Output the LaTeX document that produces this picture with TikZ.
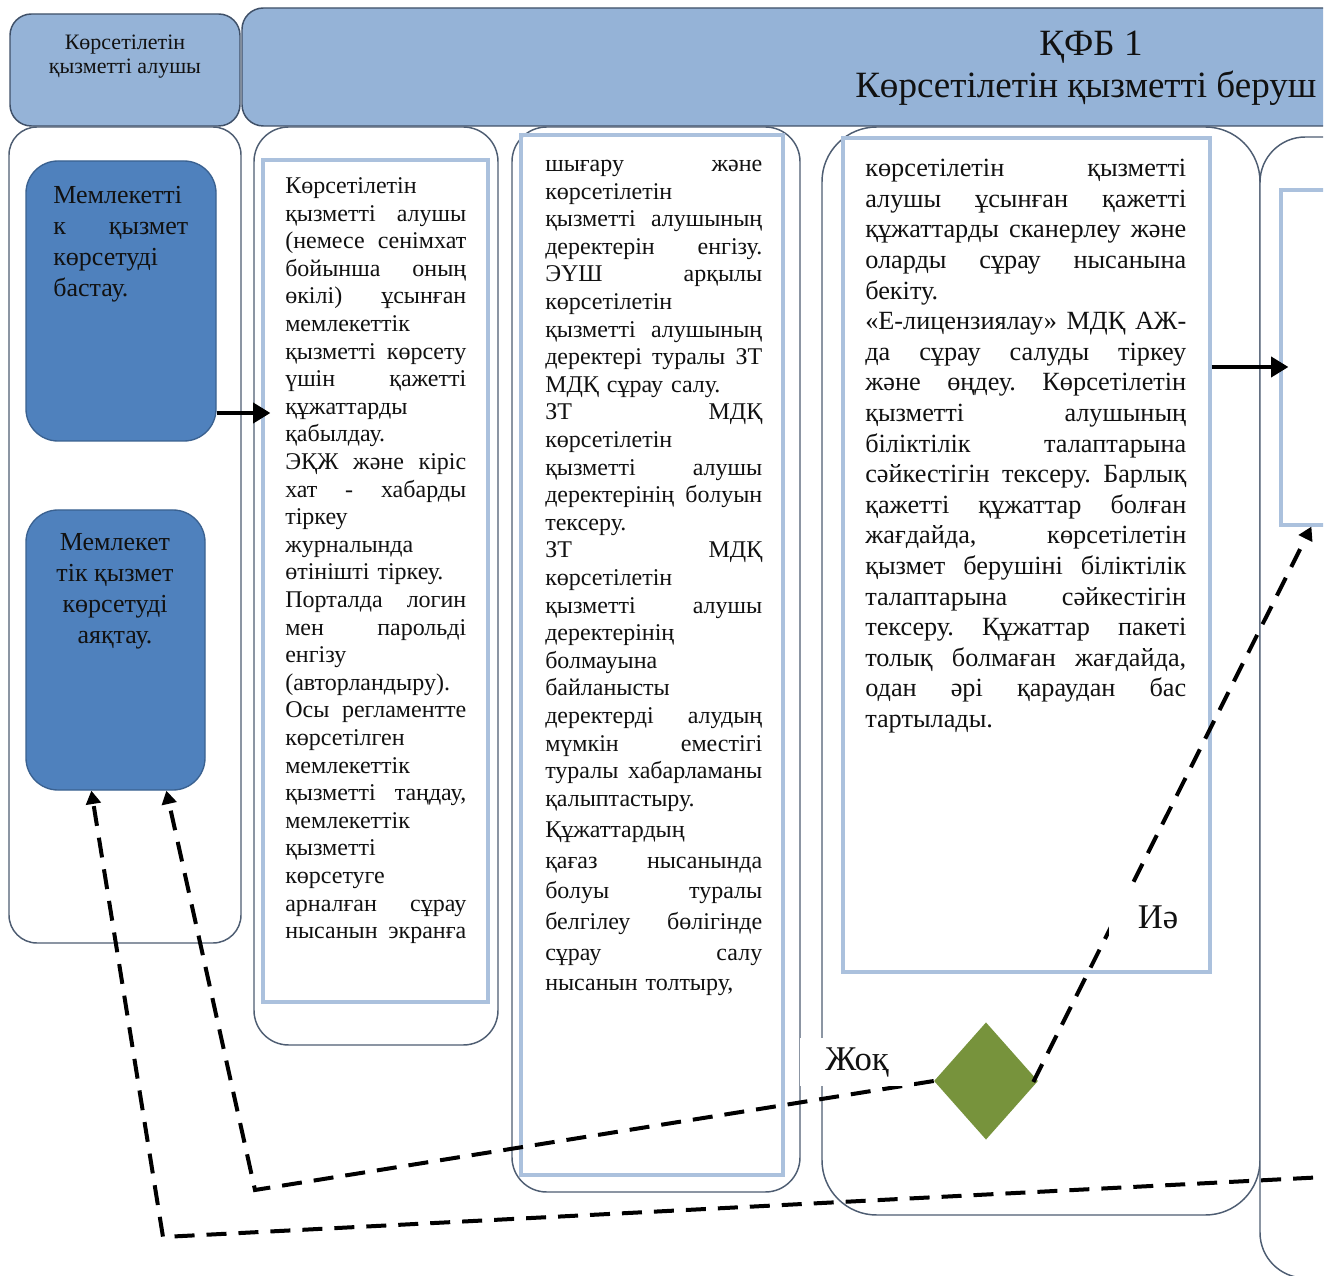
\documentclass[tikz,border=0pt]{standalone}
\usepackage{fontspec}
\setmainfont{Liberation Serif}
\usetikzlibrary{arrows.meta,shapes.geometric,fit,calc}
\definecolor{hdrfill}{HTML}{95B3D7}
\definecolor{hdrline}{HTML}{3F5068}
\definecolor{laneline}{HTML}{4E5D72}
\definecolor{boxline}{HTML}{ABC1DD}
\definecolor{nodefill}{HTML}{4F81BD}
\definecolor{nodeline}{HTML}{3A6190}
\definecolor{decfill}{HTML}{77933C}
\definecolor{inktext}{HTML}{111111}
\newcommand\jsp{\spaceskip=0.25em plus 1fil\xspaceskip=0.25em plus 1fil\relax}
\newcommand\Ja[1]{\leavevmode\hbox to 135.75pt{\jsp #1}}
\newcommand\Jb[1]{\leavevmode\hbox to 162.75pt{\jsp #1}}
\newcommand\Jc[1]{\leavevmode\hbox to 240.75pt{\jsp #1}}
\newcommand\Js[1]{\leavevmode\hbox to 101.25pt{\jsp #1}}
\newcommand\fsA{\fontsize{18pt}{20.7pt}\selectfont}
\newcommand\fsB{\fontsize{18pt}{22.95pt}\selectfont}
\newcommand\fsC{\fontsize{19.7pt}{22.95pt}\selectfont}
\newcommand\fsS{\fontsize{19.5pt}{23.25pt}\selectfont}
\newcommand\fsH{\fontsize{16.5pt}{18pt}\selectfont}
\newcommand\fsT{\fontsize{27.8pt}{32pt}\selectfont}
\newcommand\fsL{\fontsize{26pt}{30pt}\selectfont}
\begin{document}
\begin{tikzpicture}[x=0.75pt,y=-0.75pt,
  lane/.style={draw=laneline, line width=1.1pt, fill=white},
  hdr/.style={draw=hdrline, line width=1.1pt, fill=hdrfill},
  inbox/.style={draw=boxline, line width=2.4pt, inner sep=0pt},
  bluebox/.style={draw=nodeline, line width=1pt, fill=nodefill, rounded corners=24pt, inner sep=0pt},
  txt/.style={anchor=north west, inner sep=0pt, align=left, text=inktext},
  solidarr/.style={line width=3pt, -{Triangle[length=13pt,width=15pt]}},
  dasharr/.style={line width=3pt, dash pattern=on 15pt off 9pt, -{Triangle[length=10pt,width=11pt]}},
  lbl/.style={fill=white, font=\fsL, inner sep=0pt, text=inktext}]
\useasboundingbox (0,0) rectangle (1336,1276);
\begin{scope}
\clip (0,0) rectangle (1323,1276);
% headers
\draw[hdr, rounded corners=16pt] (10,14) rectangle (240,126);
\draw[hdr, rounded corners=16pt] (242,8) rectangle (1380,126);
\node[font=\fsH, align=center, text=inktext] (hdrleft) at (125,57) {Көрсетілетін\\қызметті алушы};
\node[font=\fsT, text=inktext] (hdrtitle) at (1091,47) {ҚФБ 1};
\node[font=\fsT, anchor=west, inner sep=0pt, text=inktext] (hdrsub) at (855,88) {Көрсетілетін қызметті беруш};
% lanes
\draw[lane, rounded corners=21pt] (9,127) rectangle (241,943);
\draw[lane, rounded corners=26pt] (254,127) rectangle (498,1045);
\draw[lane, rounded corners=26pt] (512,127) rectangle (800,1192);
\draw[lane, rounded corners=41pt] (822,127) rectangle (1260,1215);
\draw[lane, rounded corners=34pt] (1260,137) rectangle (1400,1278);
% inner boxes
\node[inbox, fit={(263,160)(488,1002)}] (box2) {};
\node[inbox, fit={(521,135)(783,1175)}] (box3) {};
\node[inbox, fit={(843,138)(1210,972)}] (box4) {};
\node[inbox, fit={(1281,190)(1420,525)}] (box5) {};
% start / end
\node[bluebox, fit={(26,161)(216,441)}] (start) {};
\node[bluebox, fit={(26,510)(205,790)}] (endn) {};
\node[txt, font=\fsS, text width=101.25pt] (starttext) at (53,182) {\strut Мемлекетті\\ \Js{к қызмет}\\ көрсетуді\\ бастау.};
\node[font=\fsS, align=center, inner sep=0pt, anchor=north, text=inktext] (endtext) at (115,529) {\strut Мемлекет\\тік қызмет\\көрсетуді\\аяқтау.};
% column 2
\node[txt, font=\fsA, text width=135.75pt] (text2) at (285,174) {\strut Көрсетілетін\\
\Ja{қызметті алушы}\\
\Ja{(немесе сенімхат}\\
\Ja{бойынша оның}\\
\Ja{өкілі) ұсынған}\\
мемлекеттік\\
\Ja{қызметті көрсету}\\
\Ja{үшін қажетті}\\
құжаттарды\\
қабылдау.\\
\Ja{ЭҚЖ және кіріс}\\
\Ja{хат - хабарды}\\
тіркеу\\
журналында\\
өтінішті тіркеу.\\
\Ja{Порталда логин}\\
\Ja{мен парольді}\\
енгізу\\
(авторландыру).\\
\Ja{Осы регламентте}\\
көрсетілген\\
мемлекеттік\\
\Ja{қызметті таңдау,}\\
мемлекеттік\\
қызметті\\
көрсетуге\\
\Ja{арналған сұрау}\\
\Ja{нысанын экранға}};
% column 3
\node[txt, font=\fsA, text width=162.75pt] (text3a) at (545,152) {\strut\Jb{шығару және}\\
көрсетілетін\\
\Jb{қызметті алушының}\\
\Jb{деректерін енгізу.}\\
\Jb{ЭҮШ арқылы}\\
көрсетілетін\\
\Jb{қызметті алушының}\\
\Jb{деректері туралы ЗТ}\\
МДҚ сұрау салу.\\
\Jb{ЗТ МДҚ}\\
көрсетілетін\\
\Jb{қызметті алушы}\\
\Jb{деректерінің болуын}\\
тексеру.\\
\Jb{ЗТ МДҚ}\\
көрсетілетін\\
\Jb{қызметті алушы}\\
деректерінің\\
болмауына\\
байланысты\\
\Jb{деректерді алудың}\\
\Jb{мүмкін еместігі}\\
\Jb{туралы хабарламаны}\\
қалыптастыру.};
\node[txt, font=\fsB, text width=162.75pt] (text3b) at (545,816) {\strut Құжаттардың\\
\Jb{қағаз нысанында}\\
\Jb{болуы туралы}\\
\Jb{белгілеу бөлігінде}\\
\Jb{сұрау салу}\\
нысанын толтыру,};
% column 4
\node[txt, font=\fsC, text width=240.75pt] (text4) at (865,155) {\strut\Jc{көрсетілетін қызметті}\\
\Jc{алушы ұсынған қажетті}\\
\Jc{құжаттарды сканерлеу және}\\
\Jc{оларды сұрау нысанына}\\
бекіту.\\
\Jc{«Е-лицензиялау» МДҚ АЖ-}\\
\Jc{да сұрау салуды тіркеу}\\
\Jc{және өңдеу. Көрсетілетін}\\
\Jc{қызметті алушының}\\
\Jc{біліктілік талаптарына}\\
\Jc{сәйкестігін тексеру. Барлық}\\
\Jc{қажетті құжаттар болған}\\
\Jc{жағдайда, көрсетілетін}\\
\Jc{қызмет берушіні біліктілік}\\
\Jc{талаптарына сәйкестігін}\\
\Jc{тексеру. Құжаттар пакеті}\\
\Jc{толық болмаған жағдайда,}\\
\Jc{одан әрі қараудан бас}\\
тартылады.};
% decision
\node[diamond, fill=decfill, minimum width=78pt, minimum height=88pt, inner sep=0pt] (dec) at (986,1081) {};
% connectors
\coordinate (a1) at (0,413);
\coordinate (a2) at (0,367);
\draw[solidarr] (start.east |- a1) -- ($(box2.west |- a1)+(9,0)$);
\draw[solidarr] (box4.east |- a2) -- ($(box5.west |- a2)+(9,0)$);
\coordinate (j1) at (255,1190);
\coordinate (k0) at (1345,1176);
\coordinate (k1) at (163,1237);
\draw[dasharr] (dec.west) -- (j1) -- ($(endn.south west)+(141,0)$);
\draw[dasharr] (k0) -- (k1) -- ($(endn.south west)+(66,0)$);
\draw[dasharr] ($(dec.east)+(-5,1)$) -- ($(box5.south west)+(32,0)$);
% labels
\node[lbl, minimum width=73pt, minimum height=46pt] (yes) at (1158,917) {Иә};
\node[lbl, minimum width=86pt, minimum height=36pt] (no) at (857,1062) {Жоқ};
\end{scope}
\end{tikzpicture}
\end{document}
